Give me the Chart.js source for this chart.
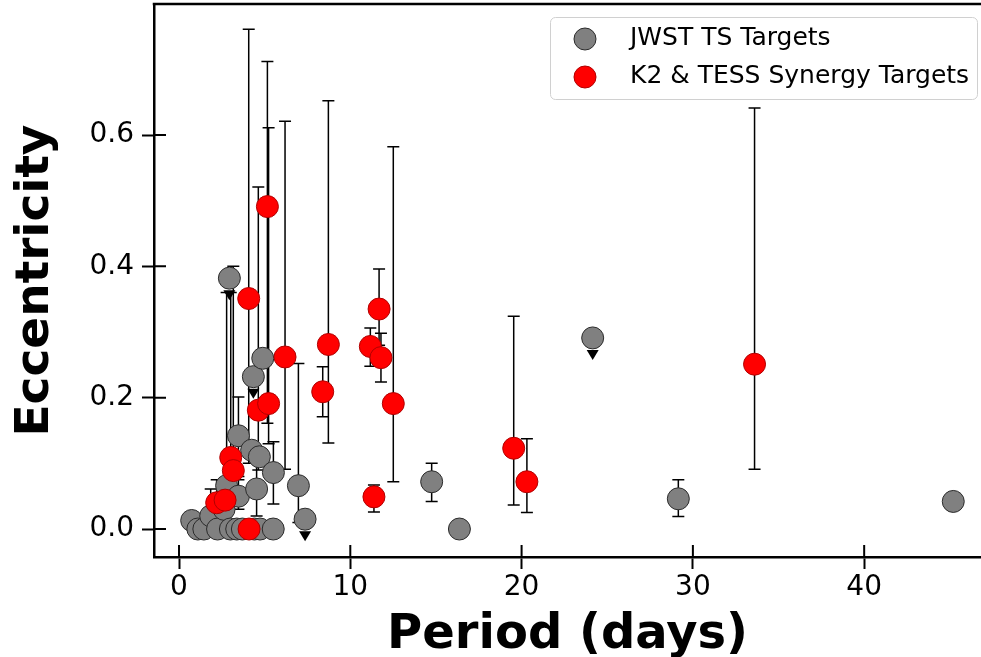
<!DOCTYPE html>
<html>
<head>
<meta charset="utf-8">
<script src="https://cdn.jsdelivr.net/npm/chart.js@4.4.0/dist/chart.umd.min.js"></script>
<style>
html, body { margin: 0; padding: 0; background: #fff; }
#wrap { width: 981px; height: 657px; position: relative; }
</style>
</head>
<body>
<div id="wrap"><canvas id="eccChart"></canvas></div>
<script>
// JWST TS targets (period in days, eccentricity, error bounds, upper-limit flag)
const jwstPeriod = [0.74, 1.10, 1.45, 1.85, 2.25, 2.63, 2.78, 2.94, 3.00, 3.37, 3.47, 3.47, 3.70, 4.24, 4.34,
                    4.40, 4.53, 4.69, 4.73, 4.89, 5.50, 5.51, 6.97, 7.36, 14.75, 16.37, 24.15, 29.15, 45.20];
const jwstEcc = [0.013, 0.0, 0.0, 0.02, 0.0, 0.03, 0.066, 0.382, 0.0, 0.0, 0.05, 0.142, 0.0, 0.12, 0.232,
                 0.0, 0.061, 0.11, 0.0, 0.26, 0.0, 0.086, 0.066, 0.015, 0.072, 0.0, 0.291, 0.046, 0.042];
const jwstErrLo = [null, null, null, 0.0, null, 0.0, 0.03, null, null, null, 0.03, 0.08, null, null, null,
                   null, 0.02, null, null, null, null, 0.038, 0.01, null, 0.042, null, null, 0.019, null];
const jwstErrHi = [null, null, null, 0.061, null, 0.075, 0.36, null, null, null, 0.075, 0.201, null, null, null,
                   null, 0.11, null, null, null, null, 0.133, 0.252, null, 0.10, null, null, 0.075, null];
const jwstUpperLim = [7, 14, 23, 26];

// K2 & TESS synergy targets
const synPeriod = [2.20, 2.69, 3.02, 3.17, 4.07, 4.09, 4.63, 5.16, 5.23, 6.19,
                   8.39, 8.72, 11.17, 11.38, 11.68, 11.79, 12.51, 19.54, 20.31, 33.60];
const synEcc = [0.040, 0.044, 0.109, 0.089, 0.351, 0.0, 0.181, 0.491, 0.191, 0.262,
                0.209, 0.281, 0.278, 0.049, 0.335, 0.261, 0.191, 0.123, 0.072, 0.251];
const synErrLo = [0.02, null, 0.07, 0.06, 0.10, null, 0.09, 0.161, 0.13, 0.091,
                  0.171, 0.131, 0.248, 0.026, 0.28, 0.224, 0.072, 0.0365, 0.025, 0.091];
const synErrHi = [0.075, null, 0.36, 0.40, 0.761, null, 0.521, 0.712, 0.611, 0.621,
                  0.247, 0.652, 0.306, 0.067, 0.396, 0.298, 0.582, 0.324, 0.1375, 0.641];

const xTicks = [0, 10, 20, 30, 40];
const yTicks = [0.0, 0.2, 0.4, 0.6];

const FONT = "'DejaVu Sans', sans-serif";

function buildPoints(px, py, lo, hi, lims) {
    return px.map((p, i) => ({
        x: p, y: py[i],
        lo: lo ? lo[i] : null,
        hi: hi ? hi[i] : null,
        lim: lims ? lims.includes(i) : false
    }));
}

function noPad(s) {
    s.paddingLeft = 0; s.paddingRight = 0; s.paddingTop = 0; s.paddingBottom = 0;
}

// error bars go under the markers
const errorBarPlugin = {
    id: 'errorBars',
    beforeDatasetsDraw(chart) {
        const ctx = chart.ctx;
        const xs = chart.scales.x, ys = chart.scales.y;
        ctx.save();
        ctx.strokeStyle = '#000';
        ctx.lineWidth = 1.5;
        chart.data.datasets.forEach(ds => {
            ds.data.forEach(d => {
                if (d.lo == null || d.hi == null) return;
                const x = xs.getPixelForValue(d.x);
                const y1 = ys.getPixelForValue(d.lo);
                const y2 = ys.getPixelForValue(d.hi);
                ctx.beginPath();
                ctx.moveTo(x, y1); ctx.lineTo(x, y2);
                ctx.moveTo(x - 6, y1); ctx.lineTo(x + 6, y1);
                ctx.moveTo(x - 6, y2); ctx.lineTo(x + 6, y2);
                ctx.stroke();
            });
        });
        ctx.restore();
    }
};

// upper-limit arrows, inward tick halves, top spine, legend
const decorPlugin = {
    id: 'decor',
    afterDatasetsDraw(chart) {
        const ctx = chart.ctx;
        const xs = chart.scales.x, ys = chart.scales.y;
        const area = chart.chartArea;
        ctx.save();

        ctx.fillStyle = '#000';
        chart.data.datasets.forEach(ds => {
            ds.data.forEach(d => {
                if (!d.lim) return;
                const x = xs.getPixelForValue(d.x);
                const y = ys.getPixelForValue(d.y);
                ctx.beginPath();
                ctx.moveTo(x - 6, y + 12);
                ctx.lineTo(x + 6, y + 12);
                ctx.lineTo(x, y + 22);
                ctx.closePath();
                ctx.fill();
            });
        });

        ctx.strokeStyle = '#000';
        ctx.lineWidth = 2;
        ctx.beginPath();
        xTicks.forEach(v => {
            const x = xs.getPixelForValue(v);
            ctx.moveTo(x, area.bottom); ctx.lineTo(x, area.bottom - 12);
        });
        yTicks.forEach(v => {
            const y = ys.getPixelForValue(v);
            ctx.moveTo(area.left, y); ctx.lineTo(area.left + 12, y);
        });
        ctx.stroke();

        ctx.lineWidth = 2.5;
        ctx.beginPath();
        ctx.moveTo(area.left - 1.25, area.top);
        ctx.lineTo(area.right + 2, area.top);
        ctx.stroke();

        // legend box
        const lx = 550, ly = 17, lw = 427, lh = 82;
        ctx.beginPath();
        ctx.roundRect(lx + 0.5, ly + 0.5, lw, lh, 5);
        ctx.fillStyle = 'rgba(255,255,255,0.8)';
        ctx.fill();
        ctx.strokeStyle = '#d0d0d0';
        ctx.lineWidth = 1;
        ctx.stroke();

        const rows = [
            { label: 'JWST TS Targets', fill: chart.data.datasets[0].backgroundColor, edge: chart.data.datasets[0].borderColor, y: 38 },
            { label: 'K2 & TESS Synergy Targets', fill: chart.data.datasets[1].backgroundColor, edge: chart.data.datasets[1].borderColor, y: 76 }
        ];
        ctx.font = '25px ' + FONT;
        ctx.textBaseline = 'middle';
        ctx.textAlign = 'left';
        rows.forEach(r => {
            ctx.beginPath();
            ctx.arc(585, r.y + 1, 11, 0, Math.PI * 2);
            ctx.fillStyle = r.fill;
            ctx.fill();
            ctx.strokeStyle = r.edge;
            ctx.lineWidth = 1;
            ctx.stroke();
            ctx.fillStyle = '#000';
            ctx.fillText(r.label, 630, r.y);
        });
        ctx.restore();
    }
};

const ctx = document.getElementById('eccChart').getContext('2d');

new Chart(ctx, {
    type: 'scatter',
    data: {
        datasets: [
            {
                label: 'JWST TS Targets',
                data: buildPoints(jwstPeriod, jwstEcc, jwstErrLo, jwstErrHi, jwstUpperLim),
                backgroundColor: '#808080',
                borderColor: '#2b2b2b',
                borderWidth: 1,
                pointRadius: 11,
                order: 2
            },
            {
                label: 'K2 & TESS Synergy Targets',
                data: buildPoints(synPeriod, synEcc, synErrLo, synErrHi, null),
                backgroundColor: '#ff0000',
                borderColor: '#b00000',
                borderWidth: 1,
                pointRadius: 11,
                order: 1
            }
        ]
    },
    options: {
        responsive: true,
        maintainAspectRatio: false,
        animation: false,
        events: [],
        devicePixelRatio: 1,
        layout: { autoPadding: false, padding: { top: 4, right: 0, left: 0, bottom: 0 } },
        plugins: {
            legend: { display: false },
            tooltip: { enabled: false }
        },
        scales: {
            x: {
                type: 'linear',
                min: -1.46,
                max: 46.82,
                afterFit: s => { s.height = 100; noPad(s); },
                afterBuildTicks: s => { s.ticks = xTicks.map(v => ({ value: v })); },
                grid: { display: true, drawOnChartArea: false, drawTicks: true, tickLength: 12, tickWidth: 2, tickColor: '#000' },
                border: { display: true, color: '#000', width: 2.5 },
                ticks: { color: '#000', font: { family: FONT, size: 28 }, padding: 2, maxRotation: 0,
                         callback: v => String(v) },
                title: { display: true, text: 'Period (days)', color: '#000',
                         font: { family: FONT, size: 48, weight: 'bold', lineHeight: 0.9 },
                         padding: { top: 0, bottom: 0 } }
            },
            y: {
                type: 'linear',
                min: -0.0426,
                max: 0.7995,
                afterFit: s => { s.width = 154; noPad(s); },
                afterBuildTicks: s => { s.ticks = yTicks.map(v => ({ value: v })); },
                grid: { display: true, drawOnChartArea: false, drawTicks: true, tickLength: 12, tickWidth: 2, tickColor: '#000' },
                border: { display: true, color: '#000', width: 2.5 },
                ticks: { color: '#000', font: { family: FONT, size: 28 }, padding: 8,
                         callback: v => v.toFixed(1) },
                title: { display: true, text: 'Eccentricity', color: '#000',
                         font: { family: FONT, size: 47, weight: 'bold', lineHeight: 1.2 },
                         padding: { top: 8, bottom: 0 } }
            }
        }
    },
    plugins: [errorBarPlugin, decorPlugin]
});
</script>
</body>
</html>
